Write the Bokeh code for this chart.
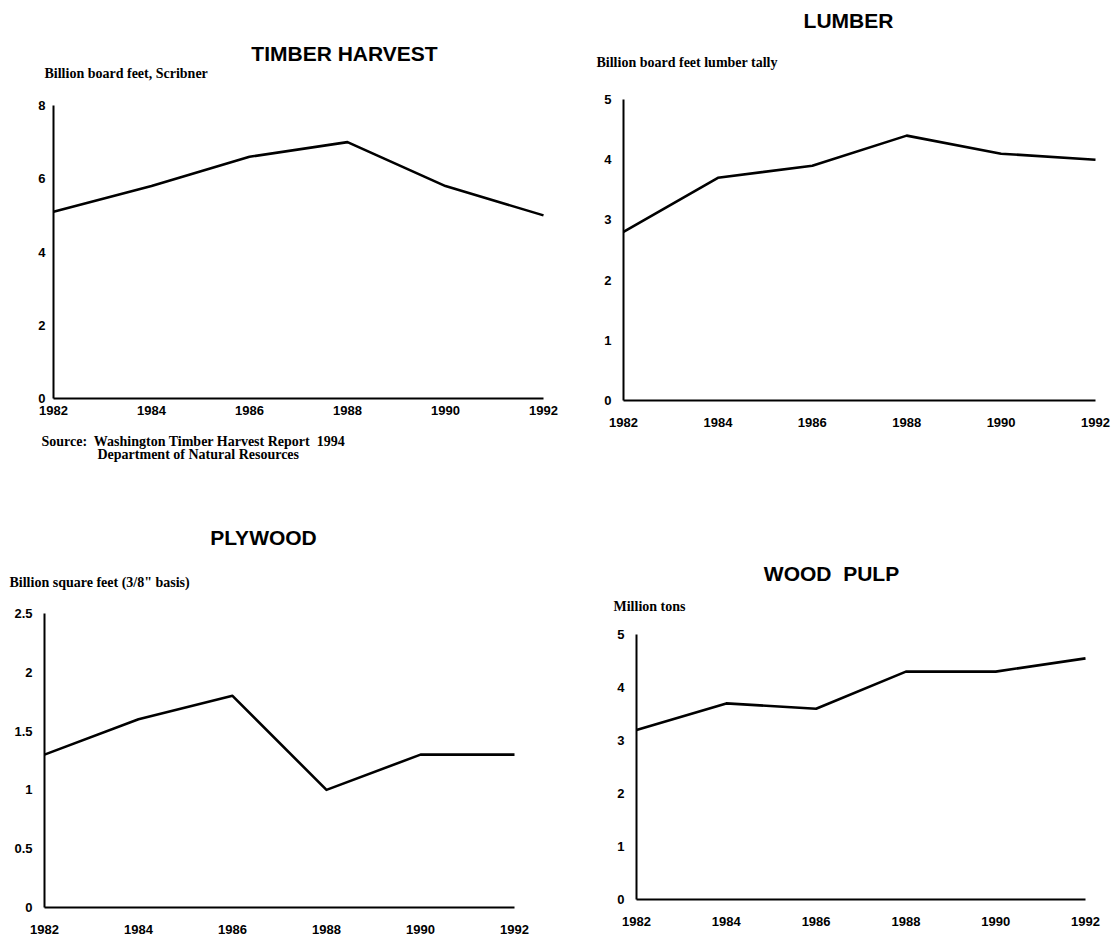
from bokeh.plotting import figure
from bokeh.models import (Range1d, FixedTicker, Label, NumeralTickFormatter, LinearAxis)
from bokeh.embed import file_html
from bokeh.resources import INLINE

# ---- data ----
years = [1982, 1984, 1986, 1988, 1990, 1992]
timber_harvest = [5.1, 5.8, 6.6, 7.0, 5.8, 5.0]
lumber = [2.8, 3.7, 3.9, 4.4, 4.1, 4.0]
plywood = [1.3, 1.6, 1.8, 1.0, 1.3, 1.3]
wood_pulp = [3.2, 3.7, 3.6, 4.3, 4.3, 4.55]

timber_ticks = [0, 2, 4, 6, 8]
lumber_ticks = [0, 1, 2, 3, 4, 5]
plywood_ticks = [0, 0.5, 1, 1.5, 2, 2.5]
pulp_ticks = [0, 1, 2, 3, 4, 5]

titles = ["TIMBER HARVEST", "LUMBER", "PLYWOOD", "WOOD\u00a0 PULP"]
ylabels = ["Billion board feet, Scribner", "Billion board feet lumber tally",
           'Billion square feet (3/8" basis)', "Million tons"]
source_lines = ["Source:\u00a0 Washington Timber Harvest Report\u00a0 1994",
                "Department of Natural Resources"]

SANS = "Liberation Sans"
SERIF = "Liberation Serif"
W, H = 1115, 941

# page canvas: x in pixels from left, y in pixels from top
p = figure(width=W, height=H, output_backend="svg", toolbar_location=None,
           x_range=Range1d(0, W), y_range=Range1d(H, 0),
           x_axis_type=None, y_axis_type=None,
           min_border=0, min_border_left=0, min_border_right=0,
           min_border_top=0, min_border_bottom=0)
p.outline_line_color = None
p.background_fill_color = "white"
p.border_fill_color = "white"


def add_panel(key, ys, yticks, box, x_standoff, y_standoff, title, title_xy,
              ylabel, ylabel_xy):
    # box: pixel placement of the panel's plotting area (left, right, bottom, top)
    left, right, bottom, top = box
    x0, x1 = years[0], years[-1]
    y0, y1 = yticks[0], yticks[-1]
    kx = (x1 - x0) / (right - left)
    ky = (y1 - y0) / (bottom - top)
    p.extra_x_ranges[key + "x"] = Range1d(x0 - left * kx, x0 + (W - left) * kx)
    p.extra_y_ranges[key + "y"] = Range1d(y0 - (H - bottom) * ky, y0 + bottom * ky)

    xa = LinearAxis(x_range_name=key + "x", y_range_name=key + "y",
                    fixed_location=y0, bounds=(x0, x1),
                    ticker=FixedTicker(ticks=years))
    ya = LinearAxis(x_range_name=key + "x", y_range_name=key + "y",
                    fixed_location=x0, bounds=(y0, y1),
                    ticker=FixedTicker(ticks=yticks),
                    formatter=NumeralTickFormatter(format="0.[0]"))
    for ax in (xa, ya):
        ax.axis_line_width = 2
        ax.axis_line_color = "black"
        ax.major_tick_out = 0
        ax.major_tick_in = 0
        ax.minor_tick_out = 0
        ax.minor_tick_in = 0
        ax.major_tick_line_color = None
        ax.minor_tick_line_color = None
        ax.major_label_text_font = SANS
        ax.major_label_text_font_style = "bold"
        ax.major_label_text_font_size = "13px"
        ax.major_label_text_color = "black"
    xa.major_label_standoff = x_standoff
    ya.major_label_standoff = y_standoff
    p.add_layout(xa, "below")
    p.add_layout(ya, "left")

    p.line(years, ys, line_color="black", line_width=2.6, line_join="round",
           x_range_name=key + "x", y_range_name=key + "y")

    p.add_layout(Label(x=title_xy[0], y=title_xy[1], text=title, text_font=SANS,
                       text_font_style="bold", text_font_size="21px",
                       text_align="center", text_baseline="middle", text_color="black"))
    p.add_layout(Label(x=ylabel_xy[0], y=ylabel_xy[1], text=ylabel, text_font=SERIF,
                       text_font_style="bold", text_font_size="14px",
                       text_align="left", text_baseline="middle", text_color="black"))


add_panel("a", timber_harvest, timber_ticks, (53, 543, 398, 105), 7, 8,
          titles[0], (344, 53), ylabels[0], (44, 73))
add_panel("b", lumber, lumber_ticks, (623, 1095, 400, 99), 17, 12,
          titles[1], (848, 20), ylabels[1], (596, 62))
add_panel("c", plywood, plywood_ticks, (44, 514, 907, 613), 17, 12,
          titles[2], (263, 537), ylabels[2], (9, 582))
add_panel("d", wood_pulp, pulp_ticks, (636, 1085, 899, 634), 17, 12,
          titles[3], (831, 573), ylabels[3], (613, 606))

p.add_layout(Label(x=41, y=441, text=source_lines[0], text_font=SERIF,
                   text_font_style="bold", text_font_size="14px",
                   text_align="left", text_baseline="middle", text_color="black"))
p.add_layout(Label(x=97, y=454, text=source_lines[1], text_font=SERIF,
                   text_font_style="bold", text_font_size="14px",
                   text_align="left", text_baseline="middle", text_color="black"))

open("out.html", "w").write(file_html(p, INLINE))
